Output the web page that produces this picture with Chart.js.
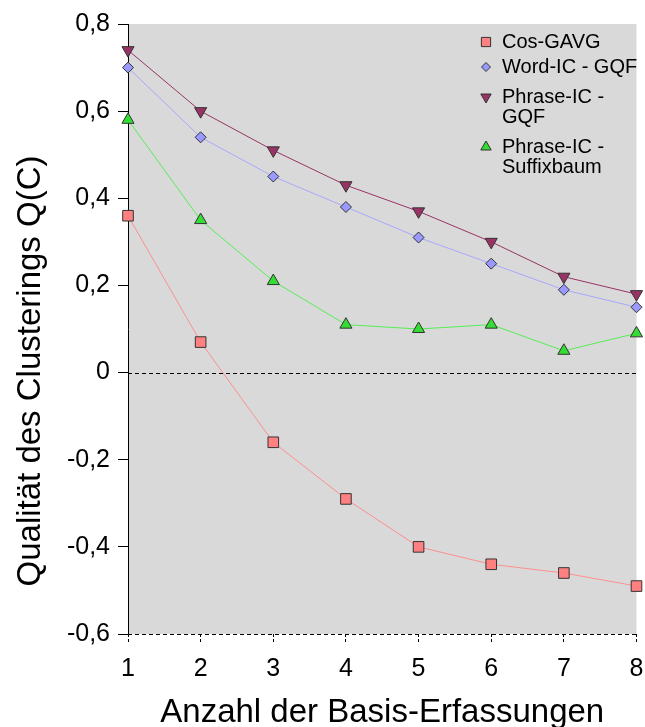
<!DOCTYPE html>
<html>
<head>
<meta charset="utf-8">
<script src="https://cdn.jsdelivr.net/npm/chart.js@4.4.1/dist/chart.umd.min.js"></script>
<style>
  body { margin: 0; background: #fff; }
  canvas { display: block; }
</style>
</head>
<body>
<canvas id="qualityChart" width="645" height="727"></canvas>
<script>
const erfassungen = [1, 2, 3, 4, 5, 6, 7, 8];
const cosGavg = [0.36, 0.07, -0.16, -0.29, -0.40, -0.44, -0.46, -0.49];
const wordIcGqf = [0.70, 0.54, 0.45, 0.38, 0.31, 0.25, 0.19, 0.15];
const phraseIcGqf = [0.74, 0.60, 0.51, 0.43, 0.37, 0.30, 0.22, 0.18];
const phraseIcSuffix = [0.58, 0.35, 0.21, 0.11, 0.10, 0.11, 0.05, 0.09];
const yTicks = [-0.6, -0.4, -0.2, 0, 0.2, 0.4, 0.6, 0.8];

const FONT = "'Liberation Sans', Arial, sans-serif";

function toPoints(values) {
  return erfassungen.map((x, i) => ({ x: x, y: values[i] }));
}

function fmtTick(v) {
  const r = Math.round(v * 10) / 10;
  if (r === 0) return "0";
  return r.toFixed(1).replace(".", ",");
}

// grauer Hintergrund + gestrichelte Linien bei 0 und unten
const plotBackground = {
  id: "plotBackground",
  beforeDraw(chart) {
    const { ctx, chartArea } = chart;
    ctx.save();
    ctx.fillStyle = "#d9d9d9";
    ctx.fillRect(chartArea.left, chartArea.top, chartArea.right - chartArea.left, chartArea.bottom - chartArea.top);
    ctx.restore();
  },
  beforeDatasetsDraw(chart) {
    const { ctx, chartArea, scales } = chart;
    ctx.save();
    ctx.strokeStyle = "#000";
    ctx.lineWidth = 1;
    ctx.setLineDash([4, 3]);
    [0, -0.6].forEach((v) => {
      const y = Math.round(scales.y.getPixelForValue(v)) + 0.5;
      ctx.beginPath();
      ctx.moveTo(chartArea.left, y);
      ctx.lineTo(chartArea.right, y);
      ctx.stroke();
    });
    ctx.restore();
  },
};

// Achsentitel selbst zeichnen (Position wie im Original)
const axisTitles = {
  id: "axisTitles",
  afterDraw(chart) {
    const { ctx, chartArea } = chart;
    ctx.save();
    ctx.fillStyle = "#000";
    ctx.font = "33px " + FONT;
    ctx.textAlign = "center";
    ctx.textBaseline = "alphabetic";
    ctx.fillText("Anzahl der Basis-Erfassungen", (chartArea.left + chartArea.right) / 2, 722);
    ctx.translate(40, 371);
    ctx.rotate(-Math.PI / 2);
    ctx.fillText("Qualität des Clusterings Q(C)", 0, 0);
    ctx.restore();
  },
};

// Legende oben rechts im Diagramm, mit Zeilenumbruch
const legendLabels = [["Cos-GAVG"], ["Word-IC - GQF"], ["Phrase-IC -", "GQF"], ["Phrase-IC -", "Suffixbaum"]];
const legendRows = [42, 67, 97, 147];
const insideLegend = {
  id: "insideLegend",
  afterDraw(chart) {
    const { ctx } = chart;
    ctx.save();
    ctx.font = "20px " + FONT;
    ctx.textBaseline = "middle";
    chart.data.datasets.forEach((ds, i) => {
      const y = legendRows[i];
      ctx.fillStyle = ds.pointBackgroundColor;
      ctx.strokeStyle = "#333";
      ctx.lineWidth = 1;
      Chart.helpers.drawPoint(ctx, {
        pointStyle: ds.pointStyle,
        radius: ds.pointRadius - 1,
        rotation: ds.pointRotation || 0,
        borderWidth: 1,
      }, 486, y);
      ctx.fillStyle = "#000";
      legendLabels[i].forEach((line, j) => {
        ctx.fillText(line, 502, y + j * 20);
      });
    });
    ctx.restore();
  },
};

function series(label, values, lineColor, fillColor, style, radius, rotation) {
  return {
    label: label,
    data: toPoints(values),
    borderColor: lineColor,
    borderWidth: 1,
    backgroundColor: fillColor,
    pointStyle: style,
    pointRadius: radius,
    pointRotation: rotation || 0,
    pointBackgroundColor: fillColor,
    pointBorderColor: "#333",
    pointBorderWidth: 1,
    tension: 0,
    fill: false,
  };
}

const ctxQuality = document.getElementById("qualityChart").getContext("2d");
new Chart(ctxQuality, {
  type: "line",
  data: {
    datasets: [
      series("Cos-GAVG", cosGavg, "#ff8f8f", "#ff8080", "rect", 7.5),
      series("Word-IC - GQF", wordIcGqf, "#a8a8ff", "#9999ff", "rectRot", 5.5),
      series("Phrase-IC - GQF", phraseIcGqf, "#993366", "#993366", "triangle", 7, 180),
      series("Phrase-IC - Suffixbaum", phraseIcSuffix, "#55ee55", "#33dd33", "triangle", 7),
    ],
  },
  options: {
    responsive: false,
    animation: false,
    clip: false,
    layout: { padding: { top: 24, right: 8, left: 4, bottom: 0 } },
    plugins: {
      legend: { display: false },
      tooltip: { enabled: false },
    },
    scales: {
      x: {
        type: "linear",
        min: 1,
        max: 8,
        afterBuildTicks(scale) {
          scale.ticks = erfassungen.map((v) => ({ value: v }));
        },
        afterFit(scale) {
          scale.height = 93;
          scale.paddingLeft = 0;
          scale.paddingRight = 0;
        },
        border: { display: false },
        grid: {
          drawOnChartArea: false,
          drawTicks: true,
          tickLength: 10,
          tickColor: "#000",
          tickBorderDash: [3, 2],
        },
        ticks: {
          color: "#000",
          font: { family: FONT, size: 25 },
          padding: 10,
          maxRotation: 0,
        },
      },
      y: {
        min: -0.6,
        max: 0.8,
        afterBuildTicks(scale) {
          scale.ticks = yTicks.map((v) => ({ value: v }));
        },
        afterFit(scale) {
          scale.width = 124;
          scale.paddingTop = 0;
          scale.paddingBottom = 0;
        },
        border: { display: true, color: "#000", width: 1 },
        grid: {
          drawOnChartArea: false,
          drawTicks: true,
          tickLength: 10,
          tickColor: "#000",
        },
        ticks: {
          color: "#000",
          font: { family: FONT, size: 25 },
          padding: 8,
          callback: (v) => fmtTick(v),
        },
      },
    },
  },
  plugins: [plotBackground, axisTitles, insideLegend],
});
</script>
</body>
</html>
